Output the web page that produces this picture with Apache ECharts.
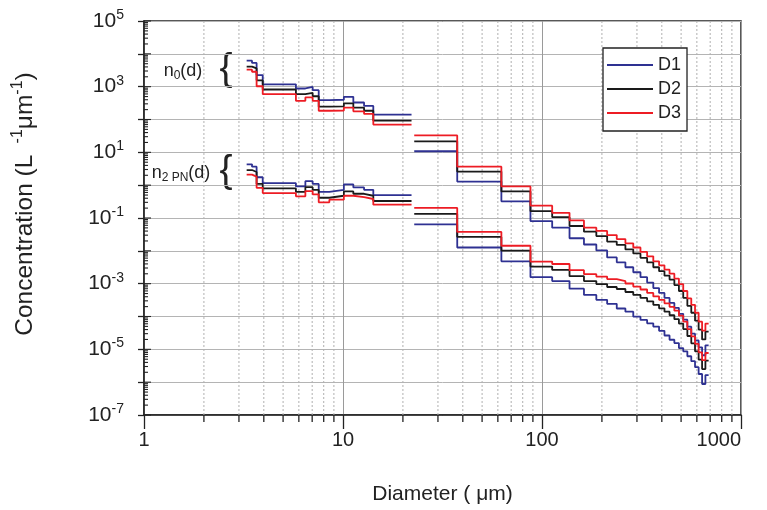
<!DOCTYPE html>
<html><head><meta charset="utf-8">
<script src="https://cdn.jsdelivr.net/npm/echarts@6/dist/echarts.min.js"></script>
<style>html,body{margin:0;padding:0;background:#fff}#c{width:767px;height:510px}</style>
</head><body><div id="c"></div>
<script>
// ---------- data ----------
const legendNames = ['D1', 'D2', 'D3'];
const seriesColors = ['#2E3192', '#1A1A1A', '#ED1C24'];

// bin edges (µm)
const leftEdges = [3.28, 3.49, 3.68, 3.95, 5.80, 6.47, 7.04, 7.55, 8.54, 10.1, 11.27, 12.76, 14.2, 22.1];
const rightEdges = [22.8, 37.5, 62.5, 87.5, 112.5, 137.5, 162.5, 187.5, 212.5, 237.5, 262.5, 287.5, 312.5, 337.5,
  362.5, 387.5, 412.5, 437.5, 462.5, 487.5, 512.5, 537.5, 562.5, 587.5, 612.5, 637.5, 662.5, 687.5];

// n0(d), left part
const n0LeftD1 = [6200, 5300, 2250, 1180, 880, 980, 780, 390, 400, 490, 330, 260, 140];
const n0LeftD2 = [4100, 3600, 1560, 820, 590, 650, 510, 245, 250, 310, 230, 185, 93];
const n0LeftD3 = [3300, 2850, 1030, 590, 370, 470, 370, 185, 188, 230, 178, 148, 70];
// n0(d), right part
const n0RightD1 = [10.8, 1.29, 0.323, 0.0807, 0.0507, 0.0242, 0.0156, 0.0103, 0.00632, 0.00448, 0.00316, 0.00223,
  0.00158, 0.00108, 0.000736, 0.000521, 0.000368, 0.00026, 0.000184, 0.000121, 8.0e-5, 4.9e-5, 3.0e-5, 1.87e-5,
  1.15e-5, 6.6e-6, 1.32e-5];
const n0RightD2 = [21.6, 2.59, 0.646, 0.161, 0.106, 0.057, 0.0384, 0.0281, 0.0192, 0.0151, 0.011, 0.00836,
  0.00611, 0.00448, 0.00316, 0.0024, 0.00175, 0.00133, 0.000908, 0.000598, 0.000368, 0.000211, 0.00013, 7.46e-5,
  4.0e-5, 2.0e-5, 3.48e-5];
const n0RightD3 = [32.7, 3.66, 0.914, 0.238, 0.1435, 0.0841, 0.0507, 0.0403, 0.0301, 0.0228, 0.0169, 0.01265,
  0.00927, 0.00678, 0.0048, 0.00363, 0.00266, 0.00201, 0.00143, 0.000973, 0.000598, 0.000356, 0.000226, 0.00013,
  6.97e-5, 3.73e-5, 6.07e-5];
// n2PN(d), left part
const n2LeftD1 = [4.30, 3.66, 1.74, 1.15, 0.914, 1.32, 1.09, 0.628, 0.721, 1.05, 0.853, 0.721, 0.500];
const n2LeftD2 = [2.89, 2.52, 1.09, 0.796, 0.628, 0.871, 0.721, 0.414, 0.476, 0.646, 0.547, 0.476, 0.330];
const n2LeftD3 = [2.10, 1.83, 0.830, 0.574, 0.457, 0.659, 0.525, 0.301, 0.361, 0.476, 0.435, 0.379, 0.255];
// n2PN(d), right part
const n2RightD1 = [0.0637, 0.01265, 0.0048, 0.00158, 0.0012, 0.000702, 0.000454, 0.000321, 0.000243, 0.000175,
  0.00014, 9.86e-5, 7.85e-5, 6.2e-5, 4.93e-5, 3.66e-5, 2.64e-5, 1.96e-5, 1.55e-5, 1.09e-5, 8.7e-6, 6.15e-6,
  4.35e-6, 2.87e-6, 1.77e-6, 8.8e-7, 1.65e-6];
const n2RightD2 = [0.134, 0.0266, 0.0101, 0.00332, 0.00262, 0.00169, 0.0012, 0.000973, 0.000791, 0.000687,
  0.000558, 0.000454, 0.000368, 0.000289, 0.000226, 0.000178, 0.00014, 0.000109, 8.3e-5, 6.07e-5, 4.14e-5,
  2.55e-5, 1.52e-5, 8.7e-6, 4.83e-6, 2.5e-6, 4.5e-6];
const n2RightD3 = [0.203, 0.0376, 0.01426, 0.0047, 0.00397, 0.00257, 0.00195, 0.00164, 0.00138, 0.0012,
  0.00101, 0.000818, 0.000664, 0.000521, 0.000408, 0.000321, 0.000252, 0.000197, 0.00015, 0.000106, 6.97e-5,
  4.14e-5, 2.47e-5, 1.47e-5, 8.1e-6, 4.67e-6, 7.74e-6];

// axis ticks
const xMajorTicks = [1, 10, 100, 1000];
const xMinorTicks = [2, 3, 4, 5, 6, 7, 8, 9, 20, 30, 40, 50, 60, 70, 80, 90, 200, 300, 400, 500, 600, 700, 800, 900];
const yDecades = [1e-7, 1e-6, 1e-5, 1e-4, 1e-3, 1e-2, 1e-1, 1, 1e1, 1e2, 1e3, 1e4, 1e5];
const yMinorMultipliers = [2, 3, 4, 5, 6, 7, 8, 9];

// ---------- build ----------
const FONT = '"Liberation Sans", Arial, sans-serif';
const X_MIN = 1, X_MAX = 1000, Y_MIN = 1e-7, Y_MAX = 1e5;

function steps(edges, vals) {
  const d = vals.map((v, i) => [edges[i], v]);
  d.push([edges[vals.length], vals[vals.length - 1]]);
  return d;
}

const groups = [
  [leftEdges, [n0LeftD1, n0LeftD2, n0LeftD3]],
  [rightEdges, [n0RightD1, n0RightD2, n0RightD3]],
  [leftEdges, [n2LeftD1, n2LeftD2, n2LeftD3]],
  [rightEdges, [n2RightD1, n2RightD2, n2RightD3]]
];

const series = [];
groups.forEach(([edges, sets]) => {
  sets.forEach((vals, j) => {
    series.push({
      name: legendNames[j], type: 'line', step: 'end', data: steps(edges, vals),
      showSymbol: false, symbol: 'none', color: seriesColors[j],
      lineStyle: { color: seriesColors[j], width: 1.8 }, z: 5 + j, silent: true, animation: false
    });
  });
});

const yMinorTicks = [];
yDecades.slice(0, -1).forEach(d => yMinorMultipliers.forEach(m => yMinorTicks.push(d * m)));

// minor x grid (dotted) + minor ticks below axis
series.push({
  type: 'custom', silent: true, clip: false, z: 1, animation: false,
  data: xMinorTicks.map(v => [v, 1]),
  renderItem: (params, api) => {
    const v = api.value(0);
    const top = api.coord([v, Y_MAX]);
    const bot = api.coord([v, Y_MIN]);
    return { type: 'group', children: [
      { type: 'line', shape: { x1: top[0], y1: top[1], x2: bot[0], y2: bot[1] },
        style: { stroke: '#b0b0b0', lineWidth: 1, lineDash: [2, 2] } },
      { type: 'line', shape: { x1: bot[0], y1: bot[1], x2: bot[0], y2: bot[1] + 7 },
        style: { stroke: '#222', lineWidth: 1.3 } }
    ] };
  }
});
// y ticks inside (minor short, major slightly longer)
series.push({
  type: 'custom', silent: true, clip: false, z: 3, animation: false,
  data: yMinorTicks.map(v => [1, v, 4]).concat(yDecades.map(v => [1, v, 7])),
  renderItem: (params, api) => {
    const p = api.coord([X_MIN, api.value(1)]);
    const len = api.value(2);
    return { type: 'line', shape: { x1: p[0], y1: p[1], x2: p[0] + len, y2: p[1] },
      style: { stroke: '#222', lineWidth: 1.1 } };
  }
});

const supRich = { b: { fontSize: 21, fontFamily: FONT, color: '#222' },
                  s: { fontSize: 14, fontFamily: FONT, color: '#222', padding: [0, 0, 12, 0] } };

const option = {
  backgroundColor: '#fff',
  animation: false,
  grid: { left: 144, right: 26, top: 21, bottom: 91, show: true, borderColor: '#222', borderWidth: 1.5,
          backgroundColor: 'transparent' },
  legend: {
    data: legendNames, orient: 'vertical', left: 603, top: 48, icon: 'rect', itemWidth: 46, itemHeight: 2,
    itemGap: 6, padding: [8, 6, 9, 4], borderColor: '#222', borderWidth: 1.3, backgroundColor: '#fff',
    textStyle: { fontSize: 18, fontFamily: FONT, color: '#222', lineHeight: 18 }, selectedMode: false
  },
  xAxis: {
    type: 'log', logBase: 10, min: X_MIN, max: X_MAX, interval: 1,
    name: 'Diameter ( μm)', nameLocation: 'middle', nameGap: 69,
    nameTextStyle: { fontSize: 21, fontFamily: FONT, color: '#222' },
    axisLine: { show: true, onZero: false, lineStyle: { color: '#222', width: 1.5 } },
    axisTick: { show: true, length: 14, lineStyle: { color: '#222', width: 1.3 } },
    axisLabel: { fontSize: 20, fontFamily: FONT, color: '#222', margin: 15, alignMaxLabel: 'right',
                 formatter: v => String(Math.round(v)) },
    splitLine: { show: true, lineStyle: { color: '#9a9a9a', width: 1 } }
  },
  yAxis: {
    type: 'log', logBase: 10, min: Y_MIN, max: Y_MAX, interval: 1,
    axisLine: { show: true, onZero: false, lineStyle: { color: '#222', width: 1.5 } },
    axisTick: { show: true, length: 6, lineStyle: { color: '#222', width: 1.3 } },
    axisLabel: {
      margin: 20, rich: supRich,
      formatter: v => {
        const e = Math.round(Math.log10(v));
        return (e % 2 === 0) ? '' : '{b|10}{s|' + e + '}';
      }
    },
    splitLine: { show: true, lineStyle: { color: '#b4b4b4', width: 1 } }
  },
  graphic: [
    { type: 'text', x: 25, y: 204, rotation: Math.PI / 2, silent: true,
      style: { text: 'Concentration (L {s| -1}μm{s|-1})', fontSize: 24.5, fontFamily: FONT, fill: '#222',
               align: 'center', verticalAlign: 'middle',
               rich: { s: { fontSize: 16, fontFamily: FONT, fill: '#222', padding: [0, 0, 14, 0] } } } },
    { type: 'text', x: 183, y: 71, silent: true,
      style: { text: 'n{sub|0}(d)', fontSize: 18, fontFamily: FONT, fill: '#222', align: 'center', verticalAlign: 'middle',
               rich: { sub: { fontSize: 12, fontFamily: FONT, fill: '#222', padding: [10, 0, 0, 0] } } } },
    { type: 'text', x: 226, y: 69, silent: true,
      style: { text: '{', fontSize: 39, fontFamily: FONT, fill: '#222', align: 'center', verticalAlign: 'middle' } },
    { type: 'text', x: 181, y: 173, silent: true,
      style: { text: 'n{sub|2 PN}(d)', fontSize: 18, fontFamily: FONT, fill: '#222', align: 'center', verticalAlign: 'middle',
               rich: { sub: { fontSize: 12, fontFamily: FONT, fill: '#222', padding: [10, 0, 0, 0] } } } },
    { type: 'text', x: 226, y: 171, silent: true,
      style: { text: '{', fontSize: 39, fontFamily: FONT, fill: '#222', align: 'center', verticalAlign: 'middle' } }
  ],
  series: series
};

const chart = echarts.init(document.getElementById('c'), null, { renderer: 'canvas' });
chart.setOption(option);
</script>
</body></html>
